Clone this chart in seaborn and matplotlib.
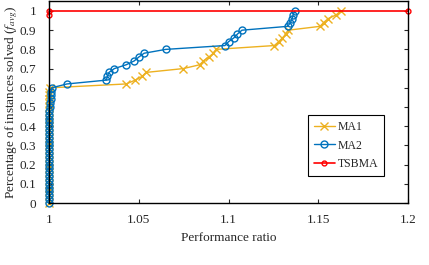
import numpy as np
import pandas as pd
import matplotlib
matplotlib.use("Agg")
import matplotlib.pyplot as plt
import seaborn as sns

# fraction of instances solved (50 instances)
frac_low = [i / 50 for i in range(31)]          # 0 .. 0.6, all at ratio 1
frac_high = [0.62 + 0.02 * i for i in range(20)]  # 0.62 .. 1.0

ma1_ratio_high = [1.043, 1.048, 1.052, 1.054, 1.0748, 1.084, 1.086, 1.089, 1.0916, 1.093,
                  1.1255, 1.128, 1.130, 1.132, 1.1333, 1.151, 1.153, 1.1555, 1.160, 1.1625]
ma2_ratio_high = [1.010, 1.032, 1.0325, 1.0334, 1.0364, 1.043, 1.0475, 1.050, 1.053, 1.065,
                  1.098, 1.100, 1.103, 1.105, 1.1075, 1.133, 1.1345, 1.1355, 1.136, 1.137]
ma1_ratio = [1.0] * 30 + [1.0006] + ma1_ratio_high
ma2_ratio = [1.0] * 25 + [1.0005, 1.0008, 1.001, 1.001, 1.0012, 1.0015] + ma2_ratio_high
ma_frac = frac_low + frac_high

tsbma_ratio = [1.0, 1.0, 1.2]
tsbma_frac = [0.98, 1.0, 1.0]

sns.set_style("ticks")
plt.rcParams['font.family'] = ['Liberation Serif', 'DejaVu Serif']
plt.rcParams['mathtext.fontset'] = 'stix'

fig = plt.figure(figsize=(4.29, 2.65), dpi=100)
ax = fig.add_axes([49 / 429, 1 - 203 / 265, 359 / 429, 202 / 265])

yellow = '#EDB120'
blue = '#0072BD'
red = '#FF0000'

sns.lineplot(x=ma1_ratio, y=ma_frac, ax=ax, estimator=None, sort=False, color=yellow,
             marker='x', markersize=5.5, markeredgecolor=yellow, markeredgewidth=1,
             linewidth=1, label='MA1', clip_on=False)
sns.lineplot(x=ma2_ratio, y=ma_frac, ax=ax, estimator=None, sort=False, color=blue,
             marker='o', markersize=5, markerfacecolor='none', markeredgecolor=blue,
             markeredgewidth=1, linewidth=1, label='MA2', clip_on=False)
sns.lineplot(x=tsbma_ratio, y=tsbma_frac, ax=ax, estimator=None, sort=False, color=red,
             marker='o', markersize=3.5, markerfacecolor='none', markeredgecolor=red,
             markeredgewidth=1, linewidth=1.2, label='TSBMA', clip_on=False)

ax.set_xlim(1, 1.2)
ax.set_ylim(0, 1.052)
ax.set_xticks([1, 1.05, 1.1, 1.15, 1.2])
ax.set_xticklabels(['1', '1.05', '1.1', '1.15', '1.2'])
ax.set_yticks(np.arange(0, 1.01, 0.1))
ax.set_yticklabels(['0', '0.1', '0.2', '0.3', '0.4', '0.5', '0.6', '0.7', '0.8', '0.9', '1'])
ax.tick_params(direction='in', top=True, right=True, length=3, width=0.8, labelsize=9.5)
ax.tick_params(axis='x', pad=8)
ax.tick_params(axis='y', pad=9)
for s in ax.spines.values():
    s.set_linewidth(1)
    s.set_color('black')

ax.set_xlabel('Performance ratio', fontsize=9.5, labelpad=4)
ax.set_ylabel('Percentage of instances solved ($f_{avg}$)', fontsize=9.5, labelpad=0)

leg = ax.legend(loc='lower right', bbox_to_anchor=(384 / 429, 1 - 176 / 265),
                bbox_transform=fig.transFigure, borderaxespad=0, fontsize=8.5, frameon=True,
                fancybox=False, edgecolor='black', framealpha=1, handlelength=1.8,
                borderpad=0.5, labelspacing=0.55, handletextpad=0.2)
leg.get_frame().set_linewidth(0.8)

plt.savefig('out.png', dpi=100)
